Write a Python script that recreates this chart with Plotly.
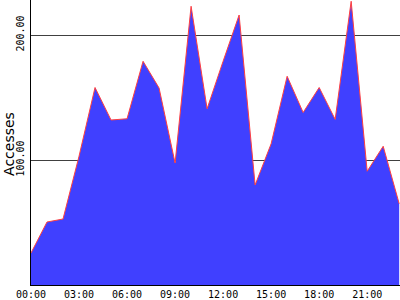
import plotly.graph_objects as go

hours = list(range(24))
accesses = [25.6, 50.4, 52.8, 103, 158, 132, 133, 179, 157.6, 97.6, 223, 141,
            179, 216, 80, 113, 167, 138, 158, 132.5, 227, 91, 111, 65]
tick_hours = [0, 3, 6, 9, 12, 15, 18, 21]
tick_labels = ["00:00", "03:00", "06:00", "09:00", "12:00", "15:00", "18:00", "21:00"]
y_ticks = [100, 200]
y_tick_labels = ["100.00", "200.00"]

fig = go.Figure()
fig.add_trace(go.Scatter(
    x=hours, y=accesses, mode="lines", fill="tozeroy",
    fillcolor="rgb(64,64,255)", line=dict(color="rgb(255,64,64)", width=1),
    hoverinfo="skip"))

font = dict(family="DejaVu Sans Mono", size=10, color="black")
fig.update_layout(
    width=400, height=300,
    margin=dict(l=31, r=0, t=0, b=15),
    paper_bgcolor="white", plot_bgcolor="white",
    showlegend=False,
    xaxis=dict(range=[0, 23.05], tickvals=tick_hours, ticktext=tick_labels,
               showgrid=False, zeroline=False, showline=True, linecolor="black",
               linewidth=1, ticks="", tickfont=font, fixedrange=True),
    yaxis=dict(range=[0, 228], tickvals=y_ticks, ticktext=y_tick_labels,
               showgrid=True, gridcolor="rgb(64,64,64)", gridwidth=1,
               zeroline=False, showline=True, linecolor="black", linewidth=1,
               ticks="", tickfont=font, tickangle=-90, ticklabelstandoff=2,
               fixedrange=True, layer="above traces"),
    annotations=[dict(text="Accesses", xref="paper", yref="paper",
                      x=-0.0596, y=0.495, showarrow=False, textangle=-90,
                      font=dict(family="DejaVu Sans", size=14, color="black"),
                      xanchor="center", yanchor="middle")],
)
fig.write_html("out.html")
